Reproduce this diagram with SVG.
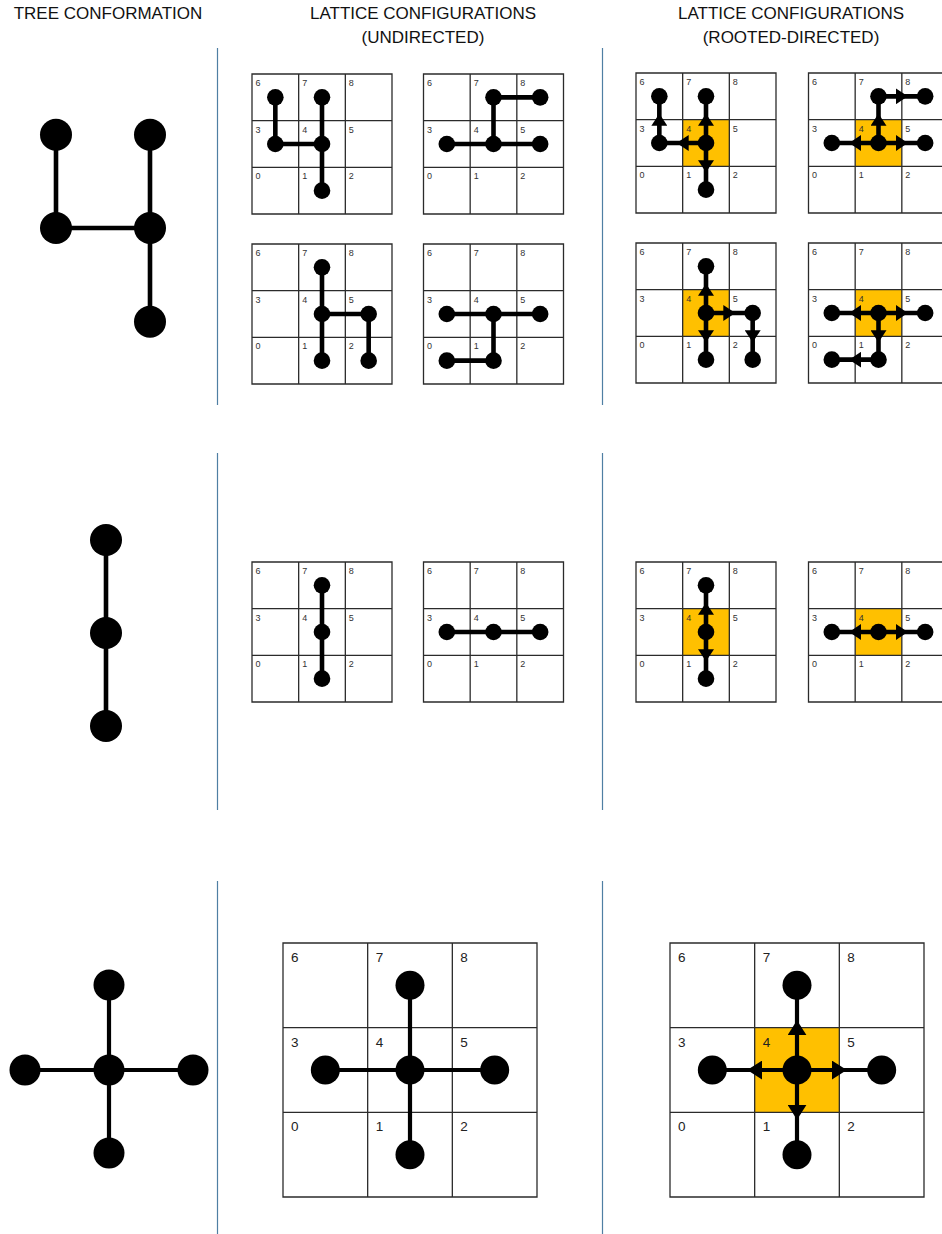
<svg xmlns="http://www.w3.org/2000/svg" xmlns:xlink="http://www.w3.org/1999/xlink" width="942" height="1234" viewBox="0 0 942 1234">
<style>
.grid{fill:none;stroke:#2b2b2b;stroke-width:1.3}
.lbl{font-family:"Liberation Sans",Arial,sans-serif;font-size:9px;fill:#333}
.lblL{font-family:"Liberation Sans",Arial,sans-serif;font-size:13.5px;fill:#222}
.edge{fill:none;stroke:#000;stroke-width:4.6}
.edgeL{fill:none;stroke:#000;stroke-width:4.2}
.arr{marker-mid:url(#ah)}
.arrL{marker-mid:url(#ahL)}
.node{fill:#000}
.root{fill:#FFC000}
.div{stroke:#4f7fa3;stroke-width:1.2}
.hdr{font-family:"Liberation Sans",Arial,sans-serif;font-size:17px;fill:#111;text-anchor:middle}
</style>
<defs>
<marker id="ah" viewBox="0 0 12 16" refX="6" refY="8" markerWidth="12" markerHeight="16" markerUnits="userSpaceOnUse" orient="auto"><path d="M0,0 L12,8 L0,16 Z" fill="#000"/></marker>
<marker id="ahL" viewBox="0 0 15 19" refX="7.5" refY="9.5" markerWidth="15" markerHeight="19" markerUnits="userSpaceOnUse" orient="auto"><path d="M0,0 L15,9.5 L0,19 Z" fill="#000"/></marker>
<g id="sgrid">
<path class="grid" d="M0,0 H140 V140 H0 Z M46.67,0 V140 M93.33,0 V140 M0,46.67 H140 M0,93.33 H140"/>
<text class="lbl" x="3.5" y="12">6</text><text class="lbl" x="50.2" y="12">7</text><text class="lbl" x="96.8" y="12">8</text>
<text class="lbl" x="3.5" y="58.7">3</text><text class="lbl" x="50.2" y="58.7">4</text><text class="lbl" x="96.8" y="58.7">5</text>
<text class="lbl" x="3.5" y="105.3">0</text><text class="lbl" x="50.2" y="105.3">1</text><text class="lbl" x="96.8" y="105.3">2</text>
</g>
<g id="lgrid">
<path class="grid" d="M0,0 H254 V254 H0 Z M84.67,0 V254 M169.33,0 V254 M0,84.67 H254 M0,169.33 H254"/>
<text class="lblL" x="8" y="19">6</text><text class="lblL" x="92.7" y="19">7</text><text class="lblL" x="177.3" y="19">8</text>
<text class="lblL" x="8" y="103.7">3</text><text class="lblL" x="92.7" y="103.7">4</text><text class="lblL" x="177.3" y="103.7">5</text>
<text class="lblL" x="8" y="188.3">0</text><text class="lblL" x="92.7" y="188.3">1</text><text class="lblL" x="177.3" y="188.3">2</text>
</g>
</defs>
<rect width="942" height="1234" fill="#fff"/>

<g id="headers">
<text class="hdr" x="108" y="19">TREE CONFORMATION</text>
<text class="hdr" x="423" y="19">LATTICE CONFIGURATIONS</text>
<text class="hdr" x="423" y="43">(UNDIRECTED)</text>
<text class="hdr" x="791" y="19">LATTICE CONFIGURATIONS</text>
<text class="hdr" x="791" y="43">(ROOTED-DIRECTED)</text>
</g>

<g id="dividers">
<line class="div" x1="217.5" y1="48" x2="217.5" y2="405"/>
<line class="div" x1="217.5" y1="453" x2="217.5" y2="810"/>
<line class="div" x1="217.5" y1="881" x2="217.5" y2="1234"/>
<line class="div" x1="602.5" y1="48" x2="602.5" y2="405"/>
<line class="div" x1="602.5" y1="453" x2="602.5" y2="810"/>
<line class="div" x1="602.5" y1="881" x2="602.5" y2="1234"/>
</g>

<g id="lattices">
<g id="u1"><use xlink:href="#sgrid" x="252" y="74"/></g>
<g id="u2"><use xlink:href="#sgrid" x="423.5" y="74"/></g>
<g id="u3"><use xlink:href="#sgrid" x="252" y="244"/></g>
<g id="u4"><use xlink:href="#sgrid" x="423.5" y="244"/></g>
<g id="u5"><use xlink:href="#sgrid" x="252" y="562"/></g>
<g id="u6"><use xlink:href="#sgrid" x="423.5" y="562"/></g>
<g id="r1"><rect class="root" x="682.67" y="119.67" width="46.67" height="46.67"/><use xlink:href="#sgrid" x="636" y="73"/></g>
<g id="r2"><rect class="root" x="855.17" y="119.67" width="46.67" height="46.67"/><use xlink:href="#sgrid" x="808.5" y="73"/></g>
<g id="r3"><rect class="root" x="682.67" y="289.67" width="46.67" height="46.67"/><use xlink:href="#sgrid" x="636" y="243"/></g>
<g id="r4"><rect class="root" x="855.17" y="289.67" width="46.67" height="46.67"/><use xlink:href="#sgrid" x="808.5" y="243"/></g>
<g id="r5"><rect class="root" x="682.67" y="608.67" width="46.67" height="46.67"/><use xlink:href="#sgrid" x="636" y="562"/></g>
<g id="r6"><rect class="root" x="855.17" y="608.67" width="46.67" height="46.67"/><use xlink:href="#sgrid" x="808.5" y="562"/></g>
<g id="l1"><use xlink:href="#lgrid" x="283" y="943"/></g>
<g id="l2"><rect class="root" x="754.67" y="1027.67" width="84.67" height="84.67"/><use xlink:href="#lgrid" x="670" y="943"/></g>
</g>

<g id="connectors">
<g id="tree-edges">
<path class="edge" d="M56,134.7 V228 H150 M150,134.7 V321.7"/>
<path class="edge" d="M106,540 V726"/>
<path class="edgeL" d="M109,985 V1153 M25,1070 H193"/>
</g>
<g transform="translate(252,74)"><path class="edge" d="M23.33,23.33 V70 H70 M70,23.33 V116.67"/></g>
<g transform="translate(423.5,74)"><path class="edge" d="M116.67,23.33 H70 V70 M23.33,70 H116.67"/></g>
<g transform="translate(252,244)"><path class="edge" d="M70,23.33 V116.67 M70,70 H116.67 V116.67"/></g>
<g transform="translate(423.5,244)"><path class="edge" d="M23.33,70 H116.67 M70,70 V116.67 H23.33"/></g>
<g transform="translate(252,562)"><path class="edge" d="M70,23.33 V116.67"/></g>
<g transform="translate(423.5,562)"><path class="edge" d="M23.33,70 H116.67"/></g>
<g transform="translate(636,73)">
<path class="edge arr" d="M70,70 L46.67,70 L23.33,70"/>
<path class="edge arr" d="M23.33,70 L23.33,46.67 L23.33,23.33"/>
<path class="edge arr" d="M70,70 L70,46.67 L70,23.33"/>
<path class="edge arr" d="M70,70 L70,93.33 L70,116.67"/>
</g>
<g transform="translate(808.5,73)">
<path class="edge arr" d="M70,70 L70,46.67 L70,23.33"/>
<path class="edge arr" d="M70,23.33 L93.33,23.33 L116.67,23.33"/>
<path class="edge arr" d="M70,70 L46.67,70 L23.33,70"/>
<path class="edge arr" d="M70,70 L93.33,70 L116.67,70"/>
</g>
<g transform="translate(636,243)">
<path class="edge arr" d="M70,70 L70,46.67 L70,23.33"/>
<path class="edge arr" d="M70,70 L93.33,70 L116.67,70"/>
<path class="edge arr" d="M116.67,70 L116.67,93.33 L116.67,116.67"/>
<path class="edge arr" d="M70,70 L70,93.33 L70,116.67"/>
</g>
<g transform="translate(808.5,243)">
<path class="edge arr" d="M70,70 L46.67,70 L23.33,70"/>
<path class="edge arr" d="M70,70 L93.33,70 L116.67,70"/>
<path class="edge arr" d="M70,70 L70,93.33 L70,116.67"/>
<path class="edge arr" d="M70,116.67 L46.67,116.67 L23.33,116.67"/>
</g>
<g transform="translate(636,562)">
<path class="edge arr" d="M70,70 L70,46.67 L70,23.33"/>
<path class="edge arr" d="M70,70 L70,93.33 L70,116.67"/>
</g>
<g transform="translate(808.5,562)">
<path class="edge arr" d="M70,70 L46.67,70 L23.33,70"/>
<path class="edge arr" d="M70,70 L93.33,70 L116.67,70"/>
</g>
<g transform="translate(283,943)"><path class="edgeL" d="M127,42.33 V211.67 M42.33,127 H211.67"/></g>
<g transform="translate(670,943)">
<path class="edgeL arrL" d="M127,127 L127,84.67 L127,42.33"/>
<path class="edgeL arrL" d="M127,127 L127,169.33 L127,211.67"/>
<path class="edgeL arrL" d="M127,127 L84.67,127 L42.33,127"/>
<path class="edgeL arrL" d="M127,127 L169.33,127 L211.67,127"/>
</g>
</g>

<g id="nodes">
<g id="tree1"><circle class="node" cx="56" cy="134.7" r="16"/><circle class="node" cx="150" cy="134.7" r="16"/><circle class="node" cx="56" cy="228" r="16"/><circle class="node" cx="150" cy="228" r="16"/><circle class="node" cx="150" cy="321.7" r="16"/></g>
<g id="tree2"><circle class="node" cx="106" cy="540" r="16"/><circle class="node" cx="106" cy="633" r="16"/><circle class="node" cx="106" cy="726" r="16"/></g>
<g id="tree3"><circle class="node" cx="109" cy="985" r="15.5"/><circle class="node" cx="109" cy="1070" r="15.5"/><circle class="node" cx="109" cy="1153" r="15.5"/><circle class="node" cx="25" cy="1070" r="15.5"/><circle class="node" cx="193" cy="1070" r="15.5"/></g>
<g id="u1-nodes" transform="translate(252,74)"><circle class="node" cx="23.33" cy="23.33" r="8.3"/><circle class="node" cx="23.33" cy="70" r="8.3"/><circle class="node" cx="70" cy="70" r="8.3"/><circle class="node" cx="70" cy="23.33" r="8.3"/><circle class="node" cx="70" cy="116.67" r="8.3"/></g>
<g id="u2-nodes" transform="translate(423.5,74)"><circle class="node" cx="70" cy="23.33" r="8.3"/><circle class="node" cx="116.67" cy="23.33" r="8.3"/><circle class="node" cx="23.33" cy="70" r="8.3"/><circle class="node" cx="70" cy="70" r="8.3"/><circle class="node" cx="116.67" cy="70" r="8.3"/></g>
<g id="u3-nodes" transform="translate(252,244)"><circle class="node" cx="70" cy="23.33" r="8.3"/><circle class="node" cx="70" cy="70" r="8.3"/><circle class="node" cx="116.67" cy="70" r="8.3"/><circle class="node" cx="70" cy="116.67" r="8.3"/><circle class="node" cx="116.67" cy="116.67" r="8.3"/></g>
<g id="u4-nodes" transform="translate(423.5,244)"><circle class="node" cx="23.33" cy="70" r="8.3"/><circle class="node" cx="70" cy="70" r="8.3"/><circle class="node" cx="116.67" cy="70" r="8.3"/><circle class="node" cx="70" cy="116.67" r="8.3"/><circle class="node" cx="23.33" cy="116.67" r="8.3"/></g>
<g id="u5-nodes" transform="translate(252,562)"><circle class="node" cx="70" cy="23.33" r="8.3"/><circle class="node" cx="70" cy="70" r="8.3"/><circle class="node" cx="70" cy="116.67" r="8.3"/></g>
<g id="u6-nodes" transform="translate(423.5,562)"><circle class="node" cx="23.33" cy="70" r="8.3"/><circle class="node" cx="70" cy="70" r="8.3"/><circle class="node" cx="116.67" cy="70" r="8.3"/></g>
<g id="r1-nodes" transform="translate(636,73)"><circle class="node" cx="23.33" cy="23.33" r="8.3"/><circle class="node" cx="23.33" cy="70" r="8.3"/><circle class="node" cx="70" cy="70" r="8.3"/><circle class="node" cx="70" cy="23.33" r="8.3"/><circle class="node" cx="70" cy="116.67" r="8.3"/></g>
<g id="r2-nodes" transform="translate(808.5,73)"><circle class="node" cx="70" cy="23.33" r="8.3"/><circle class="node" cx="116.67" cy="23.33" r="8.3"/><circle class="node" cx="23.33" cy="70" r="8.3"/><circle class="node" cx="70" cy="70" r="8.3"/><circle class="node" cx="116.67" cy="70" r="8.3"/></g>
<g id="r3-nodes" transform="translate(636,243)"><circle class="node" cx="70" cy="23.33" r="8.3"/><circle class="node" cx="70" cy="70" r="8.3"/><circle class="node" cx="116.67" cy="70" r="8.3"/><circle class="node" cx="70" cy="116.67" r="8.3"/><circle class="node" cx="116.67" cy="116.67" r="8.3"/></g>
<g id="r4-nodes" transform="translate(808.5,243)"><circle class="node" cx="23.33" cy="70" r="8.3"/><circle class="node" cx="70" cy="70" r="8.3"/><circle class="node" cx="116.67" cy="70" r="8.3"/><circle class="node" cx="70" cy="116.67" r="8.3"/><circle class="node" cx="23.33" cy="116.67" r="8.3"/></g>
<g id="r5-nodes" transform="translate(636,562)"><circle class="node" cx="70" cy="23.33" r="8.3"/><circle class="node" cx="70" cy="70" r="8.3"/><circle class="node" cx="70" cy="116.67" r="8.3"/></g>
<g id="r6-nodes" transform="translate(808.5,562)"><circle class="node" cx="23.33" cy="70" r="8.3"/><circle class="node" cx="70" cy="70" r="8.3"/><circle class="node" cx="116.67" cy="70" r="8.3"/></g>
<g id="l1-nodes" transform="translate(283,943)"><circle class="node" cx="127" cy="42.33" r="14.5"/><circle class="node" cx="42.33" cy="127" r="14.5"/><circle class="node" cx="127" cy="127" r="14.5"/><circle class="node" cx="211.67" cy="127" r="14.5"/><circle class="node" cx="127" cy="211.67" r="14.5"/></g>
<g id="l2-nodes" transform="translate(670,943)"><circle class="node" cx="127" cy="42.33" r="14.5"/><circle class="node" cx="42.33" cy="127" r="14.5"/><circle class="node" cx="127" cy="127" r="14.5"/><circle class="node" cx="211.67" cy="127" r="14.5"/><circle class="node" cx="127" cy="211.67" r="14.5"/></g>
</g>
</svg>
